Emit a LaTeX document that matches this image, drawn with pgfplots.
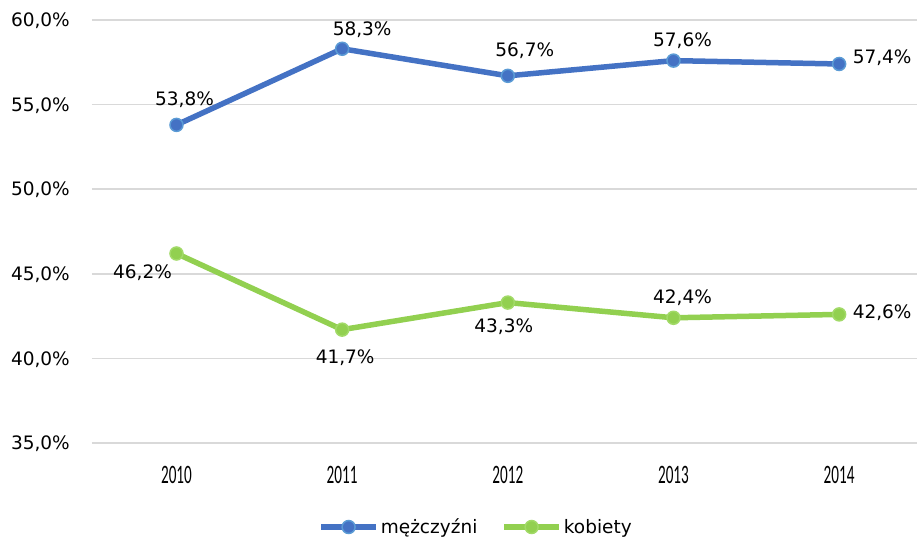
\documentclass[border=0pt]{standalone}
\usepackage{graphicx}
\usepackage{pgfplots}
\pgfplotsset{compat=1.18}
\usepackage{pgfplotstable}
\usepackage{fontspec}
\setmainfont{DejaVu Sans}
\newfontfamily\carlito{Carlito}
\newcommand\xl[1]{\scalebox{0.8}[1.4]{\carlito\fontsize{19}{20}\selectfont #1}}
\definecolor{mblue}{HTML}{4472C4}
\definecolor{mblueedge}{HTML}{5B9BD5}
\definecolor{kgreen}{HTML}{92D050}
\definecolor{kgreenedge}{HTML}{A2DA68}
\definecolor{gridgray}{HTML}{D9D9D9}

\pgfplotstableread{
x y lbl dx dy
0 53.8 53,8 8 19.4
1 58.3 58,3 20 13.4
2 56.7 56,7 17 19.4
3 57.6 57,6 9 14.4
4 57.4 57,4 43 0.4
}\men
\pgfplotstableread{
x y lbl dx dy
0 46.2 46,2 -34 -24.6
1 41.7 41,7 3 -33.6
2 43.3 43,3 -4 -29.6
3 42.4 42,4 9 14.4
4 42.6 42,6 43 -3.6
}\women

\begin{document}
\begin{tikzpicture}
\path[use as bounding box] (-92pt,-100pt) rectangle (825pt,443pt);
\begin{axis}[
  at={(0,0)}, anchor=south west,
  scale only axis, width=825pt, height=423pt,
  xmin=-0.51, xmax=4.47, ymin=35, ymax=60,
  clip=false,
  axis line style={draw=none},
  major tick length=0pt,
  ytick={35,40,45,50,55,60},
  yticklabels={{35,0\%},{40,0\%},{45,0\%},{50,0\%},{55,0\%},{60,0\%}},
  yticklabel style={font=\fontsize{18.5}{20}\selectfont, anchor=base east, inner sep=0pt, xshift=-22pt, yshift=-6.7pt},
  ymajorgrids, grid style={gridgray, line width=1.5pt},
  xtick={0,1,2,3,4},
  xticklabels={\xl{2010},\xl{2011},\xl{2012},\xl{2013},\xl{2014}},
  xticklabel style={anchor=base, inner sep=0pt, yshift=-40pt},
  legend style={at={(0.4655,-0.1986)}, anchor=center, draw=none, fill=none,
    legend columns=2, font=\fontsize{18.5}{20}\selectfont,
    /tikz/every even column/.append style={column sep=22pt}},
  legend cell align=left,
  legend image code/.code={
    \draw[mark repeat=2,mark phase=2,#1] plot coordinates {(0pt,0pt) (27.5pt,0pt) (55pt,0pt)};
  },
  point meta=explicit symbolic,
  nodes near coords={\pgfplotspointmeta\%},
  visualization depends on={\thisrow{dx} \as \dx},
  visualization depends on={\thisrow{dy} \as \dy},
  nodes near coords style={font=\fontsize{18.5}{20}\selectfont, text=black, anchor=base, inner sep=0pt, xshift=\dx pt, yshift=\dy pt},
]
\addplot[mblue, line width=5.5pt, mark=*, mark size=6.5pt,
  mark options={fill=mblue, draw=mblueedge, line width=1.5pt}]
  table[x=x, y=y, meta=lbl] {\men};
\addlegendentry{mężczyźni}
\addplot[kgreen, line width=5.5pt, mark=*, mark size=6.5pt,
  mark options={fill=kgreen, draw=kgreenedge, line width=1.5pt}]
  table[x=x, y=y, meta=lbl] {\women};
\addlegendentry{kobiety}
\end{axis}
\end{tikzpicture}
\end{document}
